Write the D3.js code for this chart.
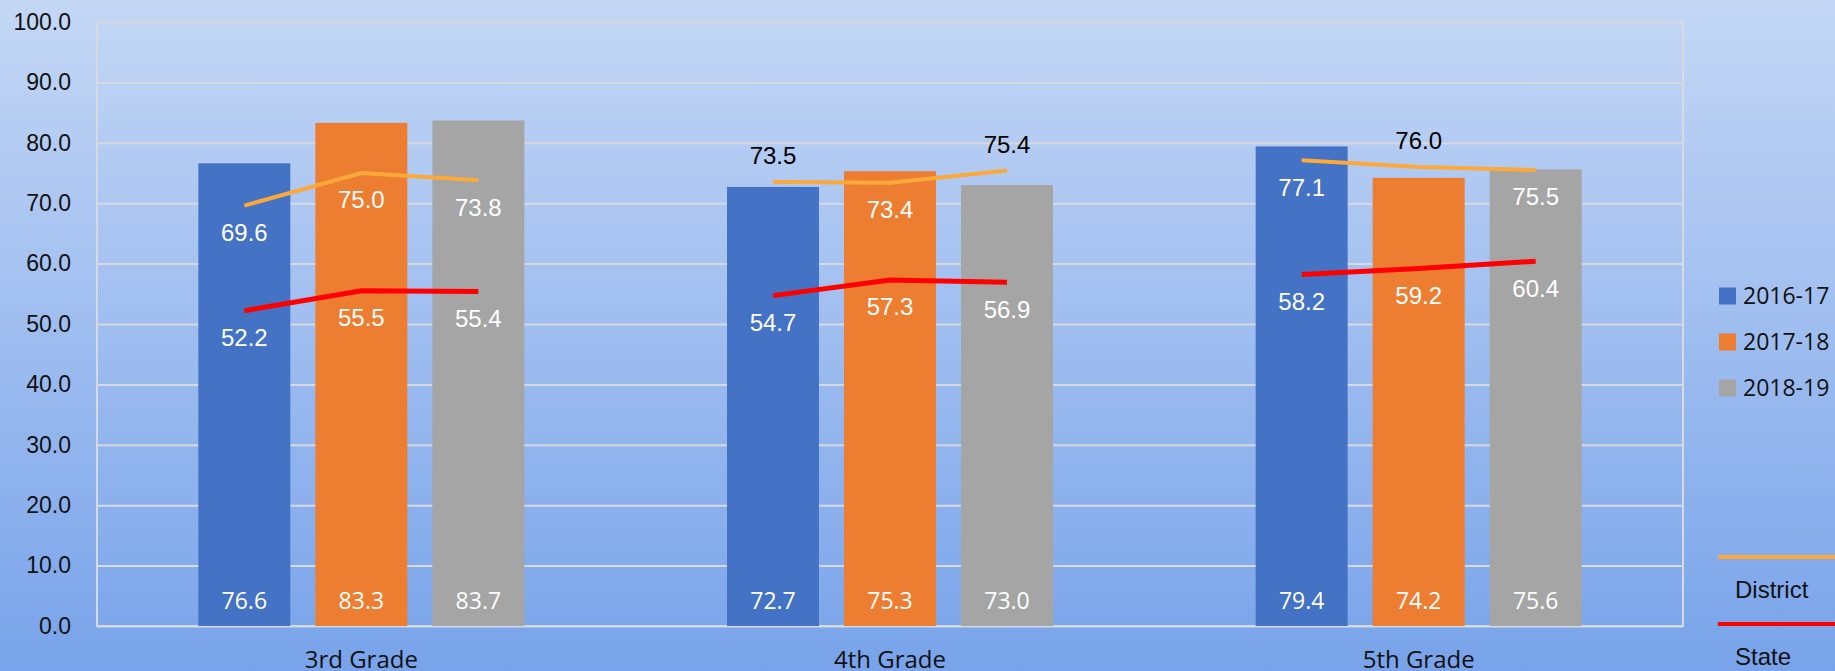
<!DOCTYPE html>
<html>
<head>
<meta charset="utf-8">
<script src="https://cdn.jsdelivr.net/npm/d3@7"></script>
<style>
  html, body { margin: 0; padding: 0; }
  svg { display: block; }
  .tick text { font-family: "Liberation Sans", Arial, sans-serif; font-size: 23px; fill: #111; }
  .tick line { stroke: #d6d9df; stroke-width: 2; }
</style>
</head>
<body>
<svg width="1835" height="671"></svg>
<script>
// chart values
var grades = ['3rd Grade', '4th Grade', '5th Grade'];
var years = ['2016-17', '2017-18', '2018-19'];
// bar values per grade (2016-17, 2017-18, 2018-19)
var barValues = [[76.6, 83.3, 83.7], [72.7, 75.3, 73.0], [79.4, 74.2, 75.6]];
var districtValues = [[69.6, 75.0, 73.8], [73.5, 73.4, 75.4], [77.1, 76.0, 75.5]];
var stateValues = [[52.2, 55.5, 55.4], [54.7, 57.3, 56.9], [58.2, 59.2, 60.4]];
var yTicks = [0, 10, 20, 30, 40, 50, 60, 70, 80, 90, 100];

var yearColors = ['#4472c4', '#ed7d31', '#a5a5a5'];
var districtColor = '#fda93a';
var stateColor = '#ff0000';

var svg = d3.select('svg');
var svgWidth = +svg.attr('width');
var svgHeight = +svg.attr('height');

var plot = {l: 97, r: 1683, t: 22, b: 626};

// background gradient
var grad = svg.append('defs').append('linearGradient')
    .attr('id', 'bg')
    .attr('x1', 0).attr('y1', 0).attr('x2', 0).attr('y2', 1);
grad.append('stop').attr('offset', '0%').attr('stop-color', '#c4d7f5');
grad.append('stop').attr('offset', '100%').attr('stop-color', '#78a3ea');
svg.append('rect')
    .attr('width', svgWidth)
    .attr('height', svgHeight)
    .attr('fill', 'url(#bg)');

var yScale = d3.scaleLinear().domain([0, 100]).range([plot.b, plot.t]);
var x0 = d3.scaleBand().domain(grades).range([plot.l, plot.r]);
var x1 = d3.scaleBand().domain(years)
    .range([0, x0.bandwidth()])
    .paddingInner(0.214)
    .paddingOuter(0.866);

function barCenter(g, y) {
    return x0(g) + x1(y) + x1.bandwidth() / 2;
}

// gridlines + y labels
var yAxis = d3.axisLeft(yScale)
    .tickValues(yTicks)
    .tickSize(-(plot.r - plot.l))
    .tickPadding(26)
    .tickFormat(d3.format('.1f'));
var yG = svg.append('g')
    .attr('transform', 'translate(' + plot.l + ',0)')
    .call(yAxis);
yG.select('.domain').remove();

// plot border
svg.append('rect')
    .attr('x', plot.l).attr('y', plot.t)
    .attr('width', plot.r - plot.l)
    .attr('height', plot.b - plot.t)
    .attr('fill', 'none')
    .attr('stroke', '#d6d9df')
    .attr('stroke-width', 2);

// bars
var groups = svg.selectAll('.grade').data(grades).enter().append('g')
    .attr('class', 'grade')
    .attr('transform', function(d) { return 'translate(' + x0(d) + ',0)'; });

groups.selectAll('rect')
    .data(function(d, i) { return barValues[i].map(function(v, j) { return {year: years[j], value: v, k: j}; }); })
    .enter().append('rect')
    .attr('x', function(d) { return x1(d.year); })
    .attr('y', function(d) { return yScale(d.value); })
    .attr('width', x1.bandwidth())
    .attr('height', function(d) { return yScale(0) - yScale(d.value); })
    .attr('fill', function(d) { return yearColors[d.k]; });

groups.selectAll('.barLabel')
    .data(function(d, i) { return barValues[i].map(function(v, j) { return {year: years[j], value: v}; }); })
    .enter().append('text')
    .attr('class', 'barLabel')
    .attr('x', function(d) { return x1(d.year) + x1.bandwidth() / 2; })
    .attr('y', yScale(0) - 17)
    .attr('text-anchor', 'middle')
    .style('font-family', '"Open Sans", sans-serif')
    .style('font-size', '23px')
    .attr('fill', '#fff')
    .text(function(d) { return d.value.toFixed(1); });

// lines, one piece per grade
var line = d3.line()
    .x(function(d) { return d.x; })
    .y(function(d) { return yScale(d.value); });

function drawSeries(values, color, width, name) {
    grades.forEach(function(g, i) {
        var pts = values[i].map(function(v, j) {
            return {x: barCenter(g, years[j]), value: v, bar: barValues[i][j]};
        });
        svg.append('path')
            .datum(pts)
            .attr('class', name)
            .attr('d', line)
            .attr('fill', 'none')
            .attr('stroke', color)
            .attr('stroke-width', width);

        svg.selectAll('.lbl-' + name + i).data(pts).enter().append('text')
            .attr('class', 'lbl-' + name + i)
            .attr('x', function(d) { return d.x; })
            .attr('y', function(d) {
                var above = name === 'district' && d.value > d.bar;
                return yScale(d.value) + (above ? -26 : 27);
            })
            .attr('dy', '0.35em')
            .attr('text-anchor', 'middle')
            .style('font-family', '"Liberation Sans", Arial, sans-serif')
            .style('font-size', '24px')
            .attr('fill', function(d) {
                return (name === 'district' && d.value > d.bar) ? '#000' : '#fff';
            })
            .text(function(d) { return d.value.toFixed(1); });
    });
}

drawSeries(districtValues, districtColor, 4, 'district');
drawSeries(stateValues, stateColor, 5, 'state');

// category labels (cut by the bottom edge, as in the original)
svg.selectAll('.catLabel').data(grades).enter().append('text')
    .attr('class', 'catLabel')
    .attr('x', function(d) { return x0(d) + x0.bandwidth() / 2; })
    .attr('y', 668)
    .attr('text-anchor', 'middle')
    .style('font-family', '"Open Sans", sans-serif')
    .style('font-size', '24px')
    .attr('fill', '#111')
    .text(function(d) { return d; });

// legend
var legend = svg.append('g');
years.forEach(function(y, i) {
    var cy = 296 + i * 46;
    legend.append('rect')
        .attr('x', 1719).attr('y', cy - 8.5)
        .attr('width', 17).attr('height', 17)
        .attr('fill', yearColors[i]);
    legend.append('text')
        .attr('x', 1743).attr('y', cy)
        .attr('dy', '0.35em')
        .style('font-family', '"Open Sans", sans-serif')
        .style('font-size', '23px')
        .attr('fill', '#111')
        .text(y);
});

var lineLegend = [{name: 'District', color: districtColor, y: 557}, {name: 'State', color: stateColor, y: 624}];
lineLegend.forEach(function(d) {
    legend.append('line')
        .attr('x1', 1718).attr('x2', svgWidth)
        .attr('y1', d.y).attr('y2', d.y)
        .attr('stroke', d.color)
        .attr('stroke-width', 4);
    legend.append('text')
        .attr('x', 1735).attr('y', d.y + 41)
        .style('font-family', '"Liberation Sans", Arial, sans-serif')
        .style('font-size', '24px')
        .attr('fill', '#111')
        .text(d.name);
});
</script>
</body>
</html>
